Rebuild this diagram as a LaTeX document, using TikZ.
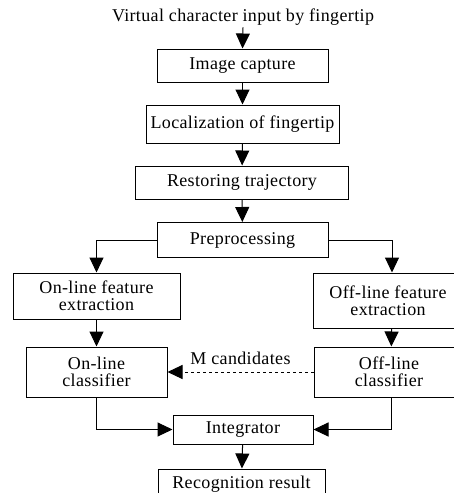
\documentclass[tikz,border=0pt]{standalone}
\usepackage{fontspec}
\setmainfont{Liberation Serif}[LetterSpace=2]
\usetikzlibrary{arrows.meta}
\begin{document}
\begin{tikzpicture}[x=1pt,y=-1pt,
  txt/.style={inner sep=0pt, align=center, font={\fontsize{18}{17}\selectfont}},
  box/.style={txt, draw, line width=1pt},
  arr/.style={line width=1pt, -{Triangle[length=15pt,width=14pt]}},
  dots/.style={arr, dash pattern=on 3pt off 3pt}]
\useasboundingbox (0,0) rectangle (454,493);
\clip (0,0) rectangle (454,493);
\fill[white] (0,0) rectangle (454,493);
\node[txt] (title) at (243,17) {Virtual character input by fingertip};
\node[box, minimum width=171pt, minimum height=33pt] (cap) at (242.5,65.5) {Image capture};
\node[box, minimum width=193pt, minimum height=38pt] (loc) at (242.5,124) {Localization of fingertip};
\node[box, minimum width=213pt, minimum height=33pt] (res) at (242,182.5) {Restoring trajectory};
\node[box, minimum width=171pt, minimum height=35pt] (pre) at (242.5,240) {Preprocessing};
\node[box, minimum width=167pt, minimum height=46pt] (onf) at (96.5,296) {On-line feature\\extraction};
\node[box, minimum width=158pt, minimum height=55pt] (offf) at (392,300.5) {\hspace*{-8pt}Off-line feature\\\hspace*{-8pt}extraction};
\node[box, minimum width=141pt, minimum height=50pt] (onc) at (96.5,372) {On-line\\classifier};
\node[box, minimum width=154pt, minimum height=50pt] (offc) at (391,372) {\hspace*{-4pt}Off-line\\\hspace*{-4pt}classifier};
\node[box, minimum width=140pt, minimum height=29pt] (integ) at (243,429.5) {Integrator};
\node[box, minimum width=167pt, minimum height=30pt] (rec) at (241.5,484) {Recognition result};
\draw[arr] (title.south) ++(0,2) -- (cap.north);
\draw[arr] (cap) -- (loc);
\draw[arr] (loc) -- (res);
\draw[arr] (res) -- (pre);
\draw[arr] (pre.west) -| (onf.north);
\draw[arr] (pre.east) -| (offf.north);
\draw[arr] (onf) -- (onc);
\draw[arr] (offf) -- (offc);
\draw[dots] (offc.west) -- node[txt, midway, above=7pt] (mc) {M candidates} (onc.east);
\draw[arr] (onc.south) |- (integ.west);
\draw[arr] (offc.south) |- (integ.east);
\draw[arr] (integ) -- (rec);
\end{tikzpicture}
\end{document}
